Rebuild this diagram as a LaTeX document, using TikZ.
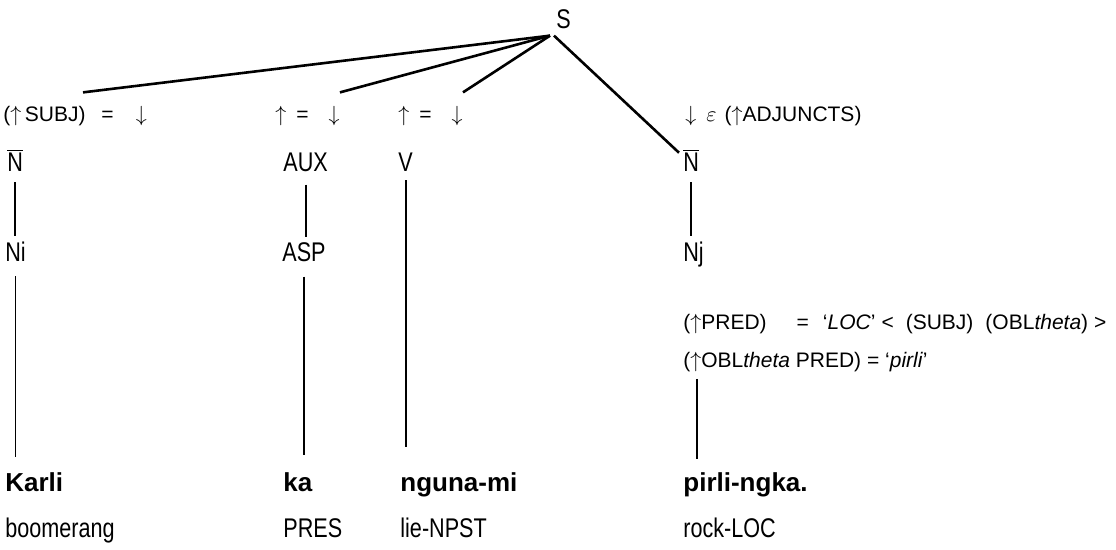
\documentclass[tikz,border=0pt]{standalone}
\usepackage{fontspec}
\setmainfont{Liberation Sans}
\newfontfamily\narrowfont{Liberation Sans}[FakeStretch=0.8]
\newcommand{\uarr}{$\uparrow$}
\newcommand{\darr}{$\downarrow$}
\newcommand{\nbar}{$\overline{\mbox{N}}$}
\begin{document}
\begin{tikzpicture}[x=0.5pt,y=-0.5pt,
  cat/.style={anchor=base west,inner xsep=0pt,inner ysep=3pt,font=\narrowfont\fontsize{13.5}{16}\selectfont},
  word/.style={cat,font=\fontsize{13}{15}\selectfont\bfseries},
  ann/.style={anchor=base west,inner xsep=0pt,inner ysep=3pt,font=\fontsize{10.5}{12}\selectfont},
  arc/.style={line width=1.3pt},
  branch/.style={line width=0.9pt}]
\useasboundingbox (0,0) rectangle (1116,550);
\node[cat] (S) at (556,29) {S};
\node[ann] (subj) at (3,122) {(\uarr\,SUBJ)\hspace{8pt}=\hspace{11pt}\darr};
\node[ann] (upaux) at (275,122) {\uarr\hspace{5pt}=\hspace{10pt}\darr};
\node[ann] (upv) at (398,122) {\uarr\hspace{5pt}=\hspace{10pt}\darr};
\node[ann] (adj) at (685,122) {\darr\hspace{5pt}$\varepsilon$\hspace{4pt}(\uarr ADJUNCTS)};
\node[cat] (nbarl) at (7,172) {\nbar};
\node[cat] (aux) at (283,172) {AUX};
\node[cat] (v) at (398,172) {V};
\node[cat] (nbarr) at (683,172) {\nbar};
\node[cat] (ni) at (5,262) {Ni};
\node[cat] (asp) at (282,262) {ASP};
\node[cat] (nj) at (683,262) {Nj};
\node[ann] (pred) at (683,330) {(\uarr PRED)\hspace{15pt}=\hspace{7pt}`\textit{LOC}'\hspace{3pt}<\hspace{6pt}(SUBJ)\hspace{6pt}(OBL\textit{theta})\hspace{3pt}>};
\node[ann] (obl) at (683,368) {(\uarr OBL\textit{theta} PRED) = `\textit{pirli}'};
\node[word] (karli) at (5,492) {Karli};
\node[word] (ka) at (283,492) {ka};
\node[word] (nguna) at (400,492) {nguna-mi};
\node[word] (pirli) at (683,492) {pirli-ngka.};
\node[cat] (gkarli) at (5,538) {boomerang};
\node[cat] (gka) at (283,538) {PRES};
\node[cat] (gnguna) at (400,538) {lie-NPST};
\node[cat] (gpirli) at (683,538) {rock-LOC};
\draw[arc] ([xshift=-3pt]S.south west) -- ([xshift=40pt,yshift=4pt]subj.north west);
\draw[arc] ([xshift=-3pt]S.south west) -- ([yshift=4pt]upaux.north east);
\draw[arc] ([xshift=-3pt]S.south west) -- ([yshift=4pt]upv.north east);
\draw[arc] ([xshift=-1pt]S.south west) -- ([xshift=-3pt,yshift=-10pt]adj.south west);
\draw[branch,shorten <=2pt] (nbarl.south) -- (nbarl.south |- ni.north);
\draw[branch,shorten <=4pt,shorten >=5pt] (ni.south) -- (ni.south |- karli.north);
\draw[branch,shorten <=3pt] (aux.south) -- (aux.south |- asp.north);
\draw[branch,shorten <=4pt,shorten >=6pt] (asp.south) -- (asp.south |- ka.north);
\draw[branch,shorten <=1pt,shorten >=10pt] (v.south) -- (v.south |- nguna.north);
\draw[branch,shorten <=2pt] (nbarr.south) -- (nbarr.south |- nj.north);
\draw[branch,shorten >=4pt] ([xshift=7pt]obl.south west) -- ([xshift=7pt]obl.south west |- pirli.north);
\end{tikzpicture}
\end{document}
